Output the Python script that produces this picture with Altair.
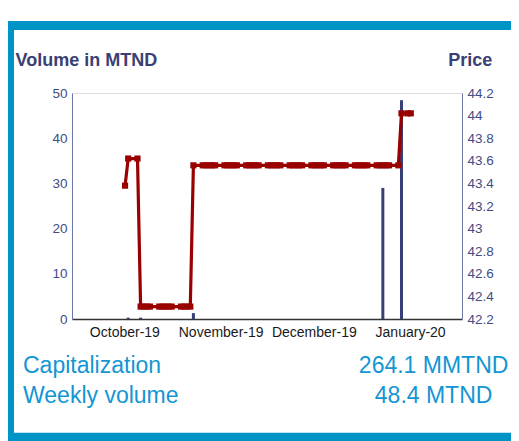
import altair as alt
import pandas as pd

# ---- data ----
price_dates = [
    "2019-10-03", "2019-10-04", "2019-10-07", "2019-10-08", "2019-10-09", "2019-10-10",
    "2019-10-11", "2019-10-14", "2019-10-15", "2019-10-16", "2019-10-17", "2019-10-18",
    "2019-10-21", "2019-10-22", "2019-10-23", "2019-10-24", "2019-10-25", "2019-10-28",
    "2019-10-29", "2019-10-30", "2019-10-31", "2019-11-01", "2019-11-04", "2019-11-05",
    "2019-11-06", "2019-11-07", "2019-11-08", "2019-11-11", "2019-11-12", "2019-11-13",
    "2019-11-14", "2019-11-15", "2019-11-18", "2019-11-19", "2019-11-20", "2019-11-21",
    "2019-11-22", "2019-11-25", "2019-11-26", "2019-11-27", "2019-11-28", "2019-11-29",
    "2019-12-02", "2019-12-03", "2019-12-04", "2019-12-05", "2019-12-06", "2019-12-09",
    "2019-12-10", "2019-12-11", "2019-12-12", "2019-12-13", "2019-12-16", "2019-12-17",
    "2019-12-18", "2019-12-19", "2019-12-20", "2019-12-23", "2019-12-24", "2019-12-25",
    "2019-12-26", "2019-12-27", "2019-12-30", "2019-12-31", "2020-01-02", "2020-01-03",
]
price_values = [
    43.38, 43.62, 43.62, 42.31, 42.31, 42.31,
    42.31, 42.31, 42.31, 42.31, 42.31, 42.31,
    42.31, 42.31, 42.31, 42.31, 43.56, 43.56,
    43.56, 43.56, 43.56, 43.56, 43.56, 43.56,
    43.56, 43.56, 43.56, 43.56, 43.56, 43.56,
    43.56, 43.56, 43.56, 43.56, 43.56, 43.56,
    43.56, 43.56, 43.56, 43.56, 43.56, 43.56,
    43.56, 43.56, 43.56, 43.56, 43.56, 43.56,
    43.56, 43.56, 43.56, 43.56, 43.56, 43.56,
    43.56, 43.56, 43.56, 43.56, 43.56, 43.56,
    43.56, 43.56, 43.56, 44.02, 44.02, 44.02,
]
volume_dates = ["2019-10-04", "2019-10-08", "2019-10-25", "2019-12-25", "2019-12-31"]
volume_values = [0.3, 0.3, 1.3, 29.0, 48.4]

month_ticks = ["2019-10-01", "2019-11-01", "2019-12-01", "2020-01-01"]
volume_ticks = [0, 10, 20, 30, 40, 50]
price_ticks = [42.2, 42.4, 42.6, 42.8, 43.0, 43.2, 43.4, 43.6, 43.8, 44.0, 44.2]

info_labels = ["Capitalization", "Weekly volume"]
info_values = ["264.1 MMTND", "48.4 MTND"]

# ---- styling ----
FONT = "Liberation Sans"
NAVY = "#3b3f73"
LABEL = "#434c82"
AXIS = "#6c78aa"
BAR = "#353f78"
RED = "#990000"
BLUE_TXT = "#1396d3"
FRAME = "#0094c6"

W, H = 390, 226

price_df = pd.DataFrame({"date": pd.to_datetime(price_dates), "price": price_values})
vol_df = pd.DataFrame({"date": pd.to_datetime(volume_dates), "volume": volume_values})

x_domain = [
    alt.DateTime(year=2019, month=9, date=17, hours=12, minutes=30),
    alt.DateTime(year=2020, month=1, date=17, hours=21),
]
x_values = [alt.DateTime(year=int(d[:4]), month=int(d[5:7]), date=int(d[8:])) for d in month_ticks]

x_enc = alt.X(
    "date:T",
    scale=alt.Scale(domain=x_domain),
    axis=alt.Axis(
        values=x_values, format="%B-%y", title=None, ticks=False, grid=False,
        labelFont=FONT, labelFontSize=14, labelColor="#1a1a1a", labelPadding=6,
        labelOffset=5.5, labelFlush=False, labelOverlap=False,
        domainColor="#333333", domainWidth=1.5,
    ),
)

bars = alt.Chart(vol_df).mark_bar(size=3, color=BAR).encode(
    x=x_enc,
    y=alt.Y(
        "volume:Q",
        scale=alt.Scale(domain=[0, 50], nice=False),
        axis=alt.Axis(
            orient="left", values=volume_ticks, ticks=False, grid=False,
            title="Volume in MTND", titleAngle=0, titleAlign="left",
            titleBaseline="alphabetic", titleX=-57, titleY=-28,
            titleFont=FONT, titleFontSize=18, titleFontWeight="bold", titleColor=NAVY,
            labelFont=FONT, labelFontSize=13.5, labelColor=LABEL, labelPadding=5,
            domainColor=AXIS,
        ),
    ),
)

line = alt.Chart(price_df).mark_line(
    color=RED, strokeWidth=3.2,
    point=alt.OverlayMarkDef(shape="square", size=38, filled=True, color=RED),
).encode(
    x=alt.X("date:T"),
    y=alt.Y(
        "price:Q",
        scale=alt.Scale(domain=[42.2, 44.2], nice=False, zero=False),
        axis=alt.Axis(
            orient="right", values=price_ticks, format="~f", ticks=False, grid=False,
            title="Price", titleAngle=0, titleAlign="right",
            titleBaseline="alphabetic", titleX=29.7, titleY=-28,
            titleFont=FONT, titleFontSize=18, titleFontWeight="bold", titleColor=NAVY,
            labelFont=FONT, labelFontSize=13.5, labelColor=LABEL, labelPadding=5,
            domainColor=AXIS,
        ),
    ),
)

one = pd.DataFrame({"k": [0]})


def txt(s, x, y, align):
    return alt.Chart(one).mark_text(
        text=s, align=align, baseline="alphabetic", font=FONT, fontSize=23, color=BLUE_TXT
    ).encode(x=alt.value(x), y=alt.value(y))


def band(x1, x2, y1, y2):
    return alt.Chart(one).mark_rect(color=FRAME).encode(
        x=alt.value(x1), x2=alt.value(x2), y=alt.value(y1), y2=alt.value(y2)
    )


texts = [
    txt(info_labels[0], -49, 280.3, "left"),
    txt(info_labels[1], -49, 309.7, "left"),
    txt(info_values[0], 361.6, 280.3, "center"),
    txt(info_values[1], 361.6, 309.7, "center"),
]
frame = [
    band(-64, 447, -72, -63),
    band(-64, -58, -72, 348),
    band(-64, 447, 339.7, 348),
]

chart = alt.layer(bars, line, *texts, *frame).resolve_scale(
    y="independent"
).properties(
    width=W, height=H,
    autosize=alt.AutoSizeParams(type="none"),
    padding={"left": 64, "top": 85, "right": 49, "bottom": 122},
).configure_view(stroke=None).configure(background="white")

chart.save("out.html", embed_options={"renderer": "svg", "actions": False})
